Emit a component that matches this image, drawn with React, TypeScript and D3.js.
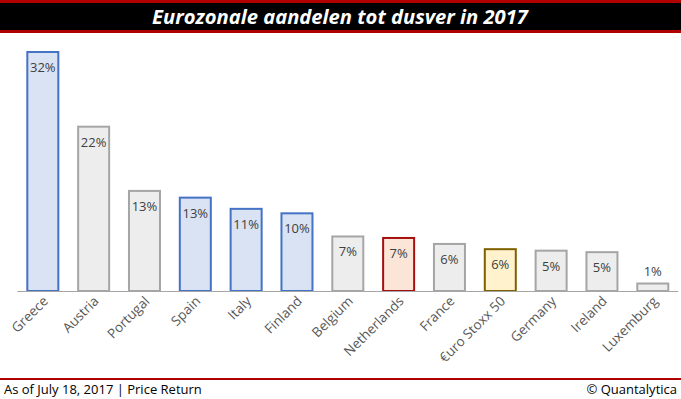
import React from "react";
import * as d3 from "d3";

const categories = ["Greece","Austria","Portugal","Spain","Italy","Finland","Belgium","Netherlands","France","€uro Stoxx 50","Germany","Ireland","Luxemburg"];
const values = [32, 22, 13.4, 12.5, 11, 10.4, 7.3, 7.1, 6.3, 5.6, 5.4, 5.2, 1];
const labels = ["32%","22%","13%","13%","11%","10%","7%","7%","6%","6%","5%","5%","1%"];
const groups = ["blue","gray","gray","blue","blue","blue","gray","red","gray","gold","gray","gray","gray"];

const styles: Record<string, { fill: string; stroke: string }> = {
  blue: { fill: "#DAE3F3", stroke: "#4472C4" },
  gray: { fill: "#EDEDED", stroke: "#A5A5A5" },
  red: { fill: "#FBE5D6", stroke: "#A50F0F" },
  gold: { fill: "#FFF2CC", stroke: "#7F6000" },
};

const W = 681, H = 399;
const FONT = "'Open Sans', 'Segoe UI', sans-serif";

export default function App() {
  const x = d3.scaleBand<string>().domain(categories).range([17.4, 678.2]).paddingInner(0.39).paddingOuter(0.195);
  const y = d3.scaleLinear().domain([0, 32]).range([291, 52]);
  const bw = x.bandwidth();
  return (
    <svg width={W} height={H} style={{ position: "absolute", left: 0, top: 0, background: "#fff" }}>
      <rect x={0} y={0} width={W} height={H} fill="#ffffff" />
      {/* title bar */}
      <rect x={0} y={0} width={W} height={33} fill="#B00000" />
      <rect x={0} y={3} width={W} height={27} fill="#000000" />
      <text x={340} y={24} textAnchor="middle" fill="#ffffff" fontFamily={FONT} fontWeight="bold" fontStyle="italic" fontSize={20} textLength={376} lengthAdjust="spacingAndGlyphs">Eurozonale aandelen tot dusver in 2017</text>
      {/* bars */}
      {categories.map((c, i) => {
        const s = styles[groups[i]];
        const x0 = x(c)!;
        const top = y(values[i]);
        const h = y(0) - top;
        const cx = x0 + bw / 2;
        const inside = h > 20;
        return (
          <g key={c}>
            <rect x={x0} y={top} width={bw} height={h} fill={s.fill} stroke={s.stroke} strokeWidth={2} />
            <text x={cx} y={inside ? top + 20 : top - 8} textAnchor="middle" fill="#404040" fontFamily={FONT} fontSize={13}>{labels[i]}</text>
            <text transform={`translate(${cx + 6},${302}) rotate(-45)`} textAnchor="end" fill="#595959" fontFamily={FONT} fontSize={13.5}>{c}</text>
          </g>
        );
      })}
      {/* axis */}
      <line x1={17.4} x2={678.2} y1={y(0) + 0.5} y2={y(0) + 0.5} stroke="#A6A6A6" strokeWidth={1} />
      {/* footer */}
      <rect x={0} y={378} width={W} height={2} fill="#B00000" />
      <text x={4} y={394} fill="#000" fontFamily={FONT} fontSize={13}>As of July 18, 2017 | Price Return</text>
      <text x={677} y={394} textAnchor="end" fill="#000" fontFamily={FONT} fontSize={13}>© Quantalytica</text>
    </svg>
  );
}
